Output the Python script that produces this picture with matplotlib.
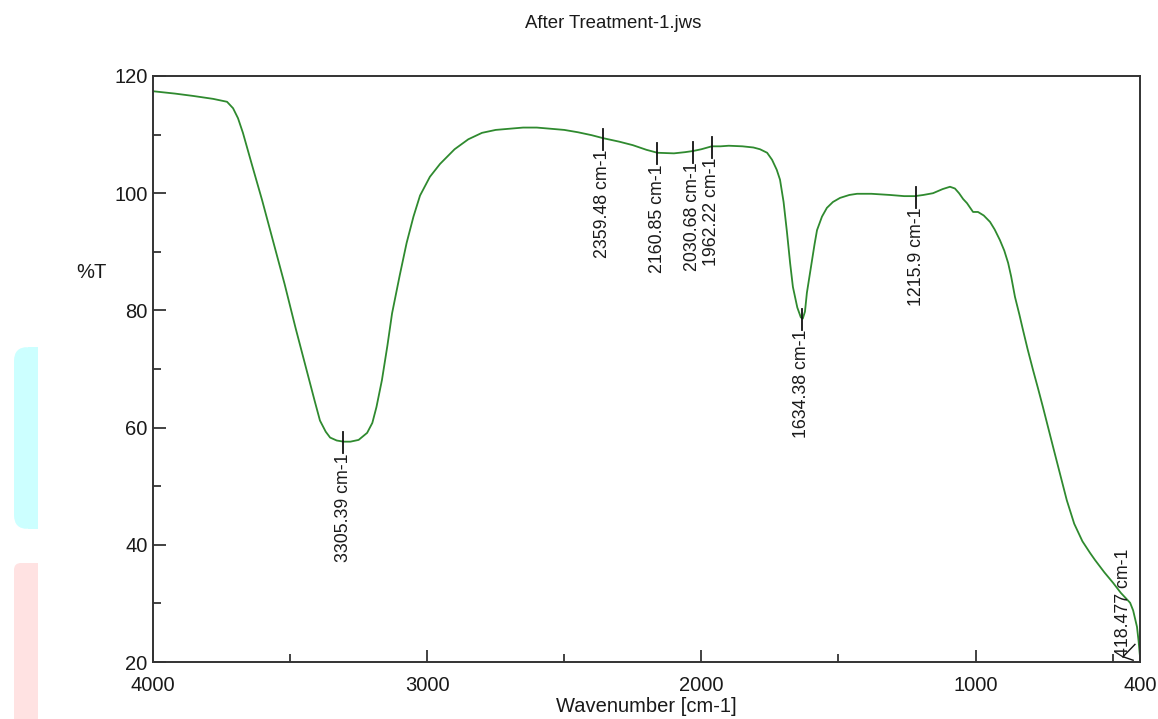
import numpy as np
import matplotlib
matplotlib.use("Agg")
import matplotlib.pyplot as plt
from matplotlib.patches import Rectangle, FancyBboxPatch

plt.rcParams['font.family'] = ['Liberation Sans', 'DejaVu Sans']

# spectrum: wavenumber [cm-1] and %T
wavenumber = [4000, 3920, 3854, 3781, 3730, 3708, 3690, 3672, 3640, 3602,
              3560, 3520, 3480, 3438, 3410, 3391, 3370, 3354, 3330, 3305,
              3280, 3250, 3219, 3200, 3185, 3165, 3145, 3128, 3100, 3075,
              3050, 3026, 2990, 2953, 2900, 2850, 2800, 2750, 2700, 2650,
              2600, 2550, 2500, 2450, 2400, 2359, 2300, 2250, 2200, 2160,
              2100, 2060, 2030, 2000, 1962, 1930, 1900, 1850, 1810, 1786,
              1760, 1742, 1725, 1713, 1700, 1688, 1676, 1666, 1650, 1637,
              1630, 1622, 1615, 1605, 1596, 1587, 1578, 1560, 1542, 1520,
              1494, 1460, 1432, 1380, 1312, 1260, 1221, 1190, 1155, 1120,
              1093, 1075, 1060, 1045, 1031, 1009, 991, 970, 947, 930,
              911, 895, 881, 870, 856, 840, 827, 810, 790, 772,
              754, 735, 717, 690, 667, 640, 610, 582, 564, 530,
              498, 470, 450, 436, 425, 418.5, 411, 405, 400]
transmittance = [117.4, 117.0, 116.6, 116.1, 115.6, 114.5, 112.8, 110.3, 105.0, 98.8,
                 91.5, 84.5, 77.0, 69.5, 64.5, 61.2, 59.3, 58.3, 57.8, 57.6,
                 57.6, 57.9, 59.1, 60.8, 63.5, 68.1, 74.0, 79.5, 86.0, 91.5,
                 96.0, 99.6, 102.8, 105.0, 107.5, 109.2, 110.3, 110.8, 111.0, 111.2,
                 111.2, 111.0, 110.8, 110.4, 109.9, 109.4, 108.8, 108.2, 107.4, 106.9,
                 106.8, 107.0, 107.2, 107.5, 108.0, 108.0, 108.1, 108.0, 107.8, 107.5,
                 106.9, 105.7, 104.0, 102.3, 98.5, 93.5, 88.0, 84.0, 80.5, 78.8,
                 78.6, 79.8, 83.0, 86.0, 88.6, 91.3, 93.7, 96.0, 97.5, 98.5,
                 99.2, 99.7, 99.9, 99.9, 99.7, 99.5, 99.5, 99.7, 100.0, 100.7,
                 101.1, 100.8, 100.0, 99.0, 98.3, 96.8, 96.8, 96.2, 95.1, 93.8,
                 92.0, 90.2, 88.1, 85.8, 82.3, 79.3, 76.7, 73.4, 69.8, 66.7,
                 63.5, 60.0, 56.7, 51.8, 47.6, 43.6, 40.6, 38.6, 37.4, 35.3,
                 33.5, 31.8, 30.8, 30.1, 28.8, 27.5, 26.0, 23.5, 20.9]

peak_wn = [3305.39, 2359.48, 2160.85, 2030.68, 1962.22, 1634.38, 1215.9]
peak_t = [57.6, 109.4, 106.9, 107.2, 108.0, 78.7, 99.5]
peak_text = ["3305.39 cm-1", "2359.48 cm-1", "2160.85 cm-1", "2030.68 cm-1",
             "1962.22 cm-1", "1634.38 cm-1", "1215.9 cm-1"]

edge_peak_wn = 418.477
edge_peak_t = 27.5
edge_peak_text = "418.477 cm-1"


def main():
    fig = plt.figure(figsize=(11.58, 7.19), dpi=100)
    ax = fig.add_axes([153 / 1158, 1 - 662 / 719, (1140 - 153) / 1158, (662 - 76) / 719])

    ax.plot(wavenumber, transmittance, color='#2f8a2f', lw=1.3)

    # peak picks: short vertical tick across the curve, rotated label below
    for wn, t, txt in zip(peak_wn, peak_t, peak_text):
        ax.plot([wn, wn], [t + 1.6, t - 2.0], color='#111111', lw=1.3)
        ax.text(wn, t - 2.0, txt, rotation=90, ha='center', va='top',
                fontsize=12.8, color='#1a1a1a')

    ax.plot([462, edge_peak_wn], [20.9, 23.0], color='#111111', lw=1.0)
    ax.plot([462, 425], [20.9, 20.3], color='#111111', lw=1.0)
    ax.text(462, 20.9, edge_peak_text, rotation=90, ha='center', va='bottom',
            fontsize=12.8, color='#1a1a1a')

    ax.set_xlim(4000, 400)
    ax.set_ylim(20, 120)
    ax.set_xticks([4000, 3000, 2000, 1000, 400])
    ax.set_xticks([3500, 2500, 1500, 500], minor=True)
    ax.set_yticks([20, 40, 60, 80, 100, 120])
    ax.set_yticks([30, 50, 70, 90, 110], minor=True)
    ax.tick_params(which='both', direction='in', color='#222222', labelsize=14.5,
                   labelcolor='#1a1a1a', width=1.2)
    ax.tick_params(axis='x', which='major', length=9, pad=10)
    ax.tick_params(axis='x', which='minor', length=6)
    ax.tick_params(axis='y', which='major', length=9, pad=4)
    ax.tick_params(axis='y', which='minor', length=6)
    for sp in ax.spines.values():
        sp.set_linewidth(1.4)
        sp.set_color('#333333')

    fig.text(646 / 1158, 1 - 707 / 719, "Wavenumber [cm-1]", ha='center', va='center',
             fontsize=14.5, color='#1a1a1a')
    fig.text(91 / 1158, 1 - 272 / 719, "%T", ha='center', va='center',
             fontsize=14.5, color='#1a1a1a')
    fig.text(613 / 1158, 1 - 23 / 719, "After Treatment-1.jws", ha='center', va='center',
             fontsize=13.4, color='#1a1a1a')

    # coloured strips at the left edge of the page
    tf = fig.transFigure
    def px(x, y):
        return (x / 1158, 1 - y / 719)
    fig.patches.append(FancyBboxPatch(px(14, 529), 24 / 1158, 182 / 719,
                                      boxstyle="round,pad=0,rounding_size=0.012",
                                      transform=tf, facecolor='#ccffff', edgecolor='none',
                                      mutation_aspect=1158 / 719))
    fig.patches.append(Rectangle(px(28, 529), 10 / 1158, 182 / 719, transform=tf,
                                 facecolor='#ccffff', edgecolor='none'))
    fig.patches.append(FancyBboxPatch(px(14, 740), 24 / 1158, 177 / 719,
                                      boxstyle="round,pad=0,rounding_size=0.006",
                                      transform=tf, facecolor='#ffe2e2', edgecolor='none',
                                      mutation_aspect=1158 / 719))
    fig.patches.append(Rectangle(px(24, 740), 14 / 1158, 177 / 719, transform=tf,
                                 facecolor='#ffe2e2', edgecolor='none'))

    fig.savefig('out.png', dpi=100)


if __name__ == '__main__':
    main()
